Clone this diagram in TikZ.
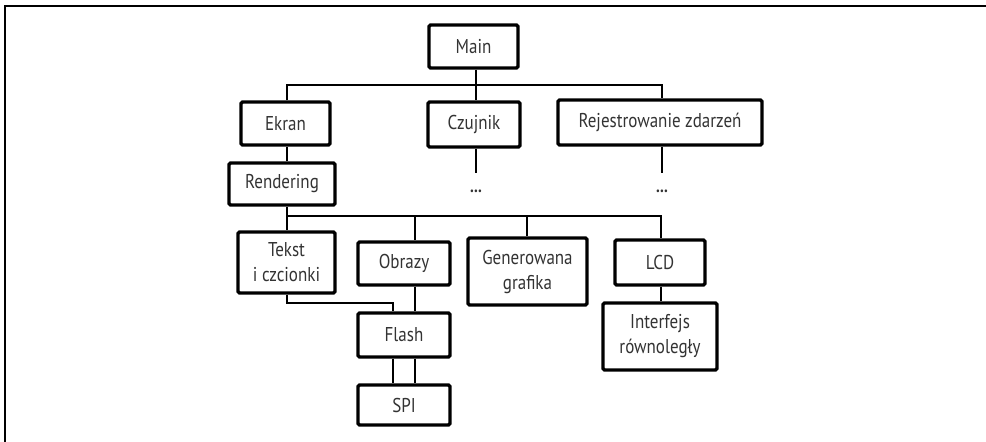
\documentclass[tikz,border=0pt]{standalone}
\usepackage{fontspec}
\setmainfont{PT Sans}[FakeStretch=0.85]
\begin{document}
\begin{tikzpicture}[x=1pt,y=-1pt,
  box/.style={draw=black,line width=3.4pt,rounded corners=1.5pt,fill=white,
    inner sep=0pt,align=center,text=black!80,font=\fontsize{20}{25}\selectfont},
  link/.style={draw=black,line width=2.4pt},
  dots/.style={font=\fontsize{18}{19}\selectfont\bfseries,text=black!80,inner sep=0pt}]
\useasboundingbox (0,0) rectangle (986,442);
% frame on the top and left
\draw[line width=2pt] (986,6) -- (5,6) -- (5,442);

% column positions of the connectors
\coordinate (cE) at (287,0);
\coordinate (cC) at (476,0);
\coordinate (cR) at (662,0);
\coordinate (cT) at (393,0);
\coordinate (cO) at (415,0);
\coordinate (cG) at (527,0);
\coordinate (cL) at (661,0);
% rows of the horizontal runs
\coordinate (bus1) at (0,85);
\coordinate (bus2) at (0,216);
\coordinate (bend) at (0,303);

% boxes
\node[box,minimum width=89pt,minimum height=43pt] (Main) at (473.5,46.5) {Main};
\node[box,minimum width=89pt,minimum height=43pt] (Ekran) at (285.5,123.5) {Ekran};
\node[box,minimum width=92pt,minimum height=45pt] (Czujnik) at (474,124.5) {Czujnik};
\node[box,minimum width=204pt,minimum height=45pt] (Rej) at (660,122.5) {Rejestrowanie zdarzeń};
\node[box,minimum width=106pt,minimum height=42pt] (Rendering) at (282,184) {Rendering};
\node[box,minimum width=97pt,minimum height=61pt] (Tekst) at (286.5,262.5) {Tekst\\i czcionki};
\node[box,minimum width=92pt,minimum height=43pt] (Obrazy) at (404,263.5) {Obrazy};
\node[box,minimum width=119pt,minimum height=67pt] (Gen) at (527.5,271.5) {Generowana\\grafika};
\node[box,minimum width=90pt,minimum height=45pt] (LCD) at (660,262.5) {LCD};
\node[box,minimum width=92pt,minimum height=44pt] (Flash) at (404,335) {Flash};
\node[box,minimum width=92pt,minimum height=40pt] (SPI) at (404,405) {SPI};
\node[box,minimum width=114pt,minimum height=67pt] (Iface) at (660,336.5) {Interfejs\\równoległy};

% unexpanded branches
\node[dots] (d1) at (476,191) {...};
\node[dots] (d2) at (662,191) {...};
\coordinate (d1top) at (476,173);
\coordinate (d2top) at (662,173);

% connectors
\draw[link] (cC |- Main.south) -- (cC |- bus1);
\draw[link] (cE |- Ekran.north) |- (cR |- bus1) -- (cR |- Rej.north);
\draw[link] (cC |- bus1) -- (cC |- Czujnik.north);
\draw[link] (cC |- Czujnik.south) -- (d1top);
\draw[link] (cR |- Rej.south) -- (d2top);
\draw[link] (cE |- Ekran.south) -- (cE |- Rendering.north);
\draw[link] (cE |- Rendering.south) -- (cE |- Tekst.north);
\draw[link] (cE |- bus2) -| (cL |- LCD.north);
\draw[link] (cO |- bus2) -- (cO |- Obrazy.north);
\draw[link] (cG |- bus2) -- (cG |- Gen.north);
\draw[link] (cE |- Tekst.south) |- (cT |- bend) -- (cT |- Flash.north);
\draw[link] (cO |- Obrazy.south) -- (cO |- Flash.north);
\draw[link] (cT |- Flash.south) -- (cT |- SPI.north);
\draw[link] (cO |- Flash.south) -- (cO |- SPI.north);
\draw[link] (cL |- LCD.south) -- (cL |- Iface.north);
\end{tikzpicture}
\end{document}
